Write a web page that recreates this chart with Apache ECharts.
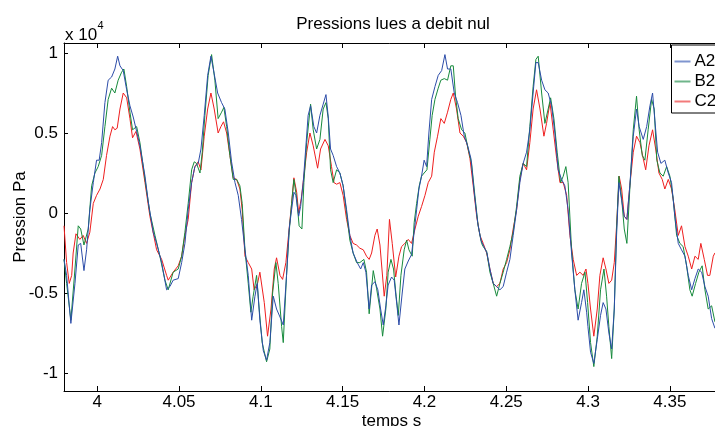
<!DOCTYPE html>
<html>
<head>
<meta charset="utf-8">
<script src="https://cdn.jsdelivr.net/npm/echarts@6/dist/echarts.min.js"></script>
<style>html,body{margin:0;padding:0;background:#fff}#c{width:715px;height:426px}</style>
</head>
<body>
<div id="c"></div>
<script>
// time (s), pressure (Pa)
const A2 = [[3.9797,-2900],[3.9813,-3900],[3.9839,-6900],[3.9864,-4400],[3.9884,-2000],[3.9899,-1900],[3.9919,-3600],[3.9935,-2300],[3.9955,200],[3.9976,1900],[3.9996,3300],[4.0012,3300],[4.0027,4400],[4.0047,6900],[4.0067,8300],[4.0088,8500],[4.0108,9000],[4.0125,9800],[4.0139,9200],[4.0159,8900],[4.0180,7700],[4.0200,6700],[4.0220,6000],[4.0241,5100],[4.0261,4200],[4.0292,2300],[4.0312,700],[4.0342,-1200],[4.0363,-1900],[4.0394,-3100],[4.0424,-4800],[4.0444,-4600],[4.0464,-4200],[4.0495,-4100],[4.0516,-3100],[4.0536,-1900],[4.0556,200],[4.0577,1900],[4.0597,2900],[4.0617,3100],[4.0634,4000],[4.0654,6100],[4.0675,8600],[4.0695,9800],[4.0715,8700],[4.0736,7500],[4.0760,6900],[4.0780,6500],[4.0801,5000],[4.0821,3200],[4.0842,1900],[4.0862,1100],[4.0882,-400],[4.0903,-2300],[4.0923,-3900],[4.0944,-6700],[4.0964,-5200],[4.0978,-4400],[4.0994,-6700],[4.1015,-8600],[4.1035,-9200],[4.1055,-8100],[4.1076,-5200],[4.1096,-6000],[4.1117,-6500],[4.1137,-7000],[4.1157,-3900],[4.1173,-1000],[4.1188,200],[4.1202,1300],[4.1214,1100],[4.1231,-200],[4.1243,400],[4.1259,1900],[4.1274,4000],[4.1289,6100],[4.1304,6700],[4.1324,5400],[4.1341,5000],[4.1361,6100],[4.1381,6800],[4.1398,7400],[4.1412,6000],[4.1426,4000],[4.1442,3600],[4.1463,2900],[4.1483,2500],[4.1503,1700],[4.1524,200],[4.1544,-1400],[4.1564,-2500],[4.1589,-3100],[4.1610,-3500],[4.1626,-3100],[4.1642,-3700],[4.1662,-6000],[4.1677,-4500],[4.1697,-4300],[4.1715,-4800],[4.1732,-6000],[4.1748,-7000],[4.1764,-5800],[4.1778,-4500],[4.1799,-4000],[4.1815,-4200],[4.1832,-5800],[4.1844,-7000],[4.1864,-5000],[4.1880,-3500],[4.1901,-3000],[4.1921,-2600],[4.1937,-1200],[4.1952,200],[4.1966,1500],[4.1982,2300],[4.1998,3300],[4.2013,2900],[4.2027,5000],[4.2044,7100],[4.2064,7900],[4.2084,8600],[4.2105,8900],[4.2125,9900],[4.2141,9000],[4.2161,9000],[4.2182,7500],[4.2202,6900],[4.2223,6100],[4.2243,4800],[4.2264,4200],[4.2284,3400],[4.2304,1300],[4.2325,-600],[4.2345,-1700],[4.2363,-2100],[4.2382,-2500],[4.2400,-3500],[4.2420,-4400],[4.2441,-4600],[4.2461,-4800],[4.2481,-4600],[4.2502,-3700],[4.2522,-2900],[4.2542,-1400],[4.2563,200],[4.2583,1900],[4.2603,3100],[4.2624,3800],[4.2644,5200],[4.2664,7500],[4.2681,9400],[4.2695,9400],[4.2716,8300],[4.2736,7700],[4.2756,7500],[4.2777,6700],[4.2797,5000],[4.2817,2700],[4.2838,2100],[4.2858,1700],[4.2878,200],[4.2899,-2500],[4.2919,-4800],[4.2939,-6700],[4.2960,-5600],[4.2974,-4800],[4.2991,-6200],[4.2999,-7100],[4.3015,-8700],[4.3035,-9400],[4.3056,-7900],[4.3076,-6400],[4.3092,-5600],[4.3109,-6000],[4.3127,-7500],[4.3144,-8500],[4.3160,-6000],[4.3174,-1400],[4.3188,1900],[4.3205,800],[4.3221,-200],[4.3237,-400],[4.3255,1700],[4.3276,4800],[4.3296,6500],[4.3312,5400],[4.3337,4600],[4.3358,5400],[4.3378,6700],[4.3394,7500],[4.3408,5800],[4.3425,3800],[4.3445,3100],[4.3469,3300],[4.3490,2500],[4.3510,1900],[4.3530,-200],[4.3551,-1900],[4.3571,-2300],[4.3592,-2700],[4.3612,-3900],[4.3633,-4800],[4.3653,-4100],[4.3673,-3500],[4.3694,-3700],[4.3714,-4600],[4.3734,-5200],[4.3755,-6600],[4.3775,-7200],[4.3800,-7300]];

const B2 = [[3.9797,-2900],[3.9813,-4400],[3.9839,-6700],[3.9864,-3500],[3.9884,-800],[3.9899,-1000],[3.9919,-2000],[3.9945,-1000],[3.9966,1700],[3.9986,2500],[4.0006,2900],[4.0027,3600],[4.0047,5400],[4.0067,7100],[4.0088,7800],[4.0108,7500],[4.0128,8300],[4.0149,8800],[4.0163,9000],[4.0180,7900],[4.0200,6300],[4.0216,5200],[4.0241,5400],[4.0261,4400],[4.0292,2100],[4.0322,0],[4.0353,-1400],[4.0383,-2700],[4.0414,-4200],[4.0434,-4800],[4.0464,-3700],[4.0495,-3500],[4.0516,-2700],[4.0536,-1200],[4.0556,600],[4.0577,2700],[4.0593,3200],[4.0607,3100],[4.0628,2500],[4.0642,3800],[4.0658,6100],[4.0678,8600],[4.0699,9900],[4.0719,8300],[4.0739,5900],[4.0760,6300],[4.0774,6600],[4.0791,5400],[4.0811,3600],[4.0831,2100],[4.0852,2100],[4.0872,1700],[4.0886,600],[4.0903,-2300],[4.0923,-4400],[4.0939,-6200],[4.0953,-5200],[4.0974,-3900],[4.0990,-6000],[4.1008,-8100],[4.1035,-9300],[4.1055,-8500],[4.1072,-5000],[4.1092,-3100],[4.1106,-4400],[4.1127,-7100],[4.1137,-8100],[4.1157,-3900],[4.1173,-1200],[4.1188,600],[4.1202,2100],[4.1219,900],[4.1234,-800],[4.1251,-1000],[4.1263,1900],[4.1280,4400],[4.1304,6800],[4.1320,5200],[4.1341,4000],[4.1361,4600],[4.1381,6500],[4.1398,6900],[4.1412,5900],[4.1426,2700],[4.1442,1900],[4.1463,2700],[4.1483,2500],[4.1503,1700],[4.1524,0],[4.1544,-1700],[4.1564,-2500],[4.1585,-3100],[4.1605,-3100],[4.1630,-2900],[4.1646,-3700],[4.1662,-6300],[4.1687,-3600],[4.1707,-4700],[4.1728,-6000],[4.1744,-7700],[4.1764,-6000],[4.1778,-3700],[4.1795,-2900],[4.1811,-3500],[4.1827,-5200],[4.1840,-6400],[4.1856,-3900],[4.1876,-2300],[4.1891,-1700],[4.1905,-2300],[4.1925,-2700],[4.1937,-600],[4.1952,600],[4.1968,1700],[4.1982,2300],[4.1998,2500],[4.2015,2700],[4.2033,4600],[4.2047,6100],[4.2064,7100],[4.2084,7800],[4.2100,8300],[4.2121,8400],[4.2141,8300],[4.2161,9200],[4.2176,9200],[4.2190,7300],[4.2206,5900],[4.2227,5200],[4.2247,5000],[4.2267,4000],[4.2288,3100],[4.2308,1100],[4.2328,-800],[4.2349,-1900],[4.2359,-2100],[4.2380,-2400],[4.2400,-3700],[4.2420,-4400],[4.2441,-5200],[4.2461,-4400],[4.2481,-3700],[4.2502,-2900],[4.2522,-2100],[4.2542,-1200],[4.2563,400],[4.2583,2300],[4.2603,3100],[4.2624,2900],[4.2644,5400],[4.2664,7900],[4.2681,9600],[4.2695,9800],[4.2716,7500],[4.2736,5600],[4.2756,6500],[4.2771,7200],[4.2791,5900],[4.2811,3800],[4.2832,1900],[4.2848,2300],[4.2864,2900],[4.2878,1900],[4.2899,-2300],[4.2919,-4800],[4.2939,-6000],[4.2960,-4400],[4.2981,-3700],[4.2997,-5600],[4.3015,-8100],[4.3035,-9600],[4.3056,-7700],[4.3076,-4800],[4.3097,-3500],[4.3113,-5200],[4.3127,-7100],[4.3144,-9100],[4.3160,-6000],[4.3174,-1000],[4.3188,2300],[4.3205,900],[4.3221,-1000],[4.3237,-1900],[4.3255,1500],[4.3276,5200],[4.3296,7300],[4.3312,5200],[4.3331,3600],[4.3347,3300],[4.3367,5200],[4.3388,7100],[4.3404,6500],[4.3420,3300],[4.3439,2500],[4.3459,2300],[4.3480,2900],[4.3500,2300],[4.3520,900],[4.3541,-1400],[4.3561,-1900],[4.3581,-2100],[4.3602,-3300],[4.3622,-4800],[4.3636,-5200],[4.3657,-4400],[4.3677,-3700],[4.3697,-3300],[4.3714,-4800],[4.3734,-6000],[4.3755,-5800],[4.3775,-6800],[4.3800,-6900]];

const C2 = [[3.9797,-800],[3.9813,-3100],[3.9829,-4400],[3.9844,-3900],[3.9853,-2500],[3.9870,-1300],[3.9894,-1650],[3.9914,-1400],[3.9935,-1900],[3.9955,-1200],[3.9976,600],[3.9996,1100],[4.0017,1500],[4.0037,2100],[4.0057,3600],[4.0078,4800],[4.0094,5400],[4.0108,5200],[4.0122,5300],[4.0139,6500],[4.0159,7500],[4.0180,7200],[4.0200,5900],[4.0216,4700],[4.0237,5100],[4.0261,4000],[4.0292,1900],[4.0322,-200],[4.0363,-2300],[4.0394,-2900],[4.0424,-3900],[4.0434,-4200],[4.0464,-3700],[4.0495,-3300],[4.0516,-2700],[4.0536,-1400],[4.0556,-400],[4.0577,1900],[4.0597,2900],[4.0617,3200],[4.0634,2700],[4.0654,4800],[4.0675,6500],[4.0695,7500],[4.0715,6500],[4.0739,5000],[4.0756,5400],[4.0772,5700],[4.0791,5000],[4.0811,3600],[4.0831,2200],[4.0852,2100],[4.0872,1500],[4.0886,200],[4.0903,-2700],[4.0923,-3100],[4.0944,-3500],[4.0959,-4800],[4.0980,-4400],[4.0994,-3700],[4.1021,-5600],[4.1041,-7700],[4.1062,-6000],[4.1082,-3500],[4.1096,-2800],[4.1117,-3900],[4.1133,-4150],[4.1153,-3100],[4.1173,-1000],[4.1188,600],[4.1202,2200],[4.1219,1300],[4.1231,0],[4.1247,900],[4.1263,2300],[4.1280,3800],[4.1300,5000],[4.1320,4200],[4.1347,2800],[4.1365,4000],[4.1392,4600],[4.1412,4200],[4.1432,2900],[4.1447,1900],[4.1463,1800],[4.1483,1900],[4.1503,1100],[4.1524,-400],[4.1544,-1400],[4.1564,-1900],[4.1585,-2000],[4.1605,-2200],[4.1626,-2300],[4.1646,-2700],[4.1662,-2900],[4.1677,-2500],[4.1697,-1400],[4.1711,-1000],[4.1728,-2000],[4.1754,-5200],[4.1770,-3900],[4.1786,-400],[4.1803,-1900],[4.1824,-4000],[4.1844,-2700],[4.1860,-2100],[4.1880,-1900],[4.1901,-1650],[4.1921,-1900],[4.1942,-1000],[4.1962,-200],[4.1982,400],[4.2003,1100],[4.2023,1900],[4.2044,2300],[4.2060,3800],[4.2080,4800],[4.2100,5900],[4.2121,5600],[4.2141,6300],[4.2161,7100],[4.2176,7500],[4.2196,6500],[4.2217,5000],[4.2237,4800],[4.2258,4400],[4.2278,3400],[4.2298,1700],[4.2319,-200],[4.2339,-1400],[4.2359,-1900],[4.2380,-2500],[4.2400,-3500],[4.2420,-4400],[4.2441,-4600],[4.2461,-4400],[4.2481,-3500],[4.2502,-3100],[4.2522,-2300],[4.2542,-1000],[4.2563,200],[4.2583,2100],[4.2603,3100],[4.2624,2700],[4.2644,4400],[4.2664,6500],[4.2685,7700],[4.2706,6500],[4.2730,4800],[4.2746,5600],[4.2767,6900],[4.2787,5200],[4.2808,3400],[4.2828,1900],[4.2848,1900],[4.2869,1100],[4.2889,-1400],[4.2909,-2900],[4.2930,-3900],[4.2950,-3700],[4.2970,-3900],[4.2987,-3500],[4.2999,-4400],[4.3015,-6000],[4.3035,-7700],[4.3056,-6000],[4.3072,-3900],[4.3092,-2800],[4.3109,-3500],[4.3127,-4400],[4.3144,-4200],[4.3160,-3100],[4.3174,-800],[4.3190,2300],[4.3205,1500],[4.3221,-200],[4.3237,-400],[4.3255,1700],[4.3276,3800],[4.3296,4800],[4.3317,4400],[4.3337,3400],[4.3352,2700],[4.3372,4200],[4.3394,5200],[4.3413,4000],[4.3433,2500],[4.3453,2100],[4.3469,1500],[4.3490,2100],[4.3510,1500],[4.3530,200],[4.3551,-1400],[4.3571,-800],[4.3592,-2100],[4.3612,-2700],[4.3633,-3500],[4.3653,-2700],[4.3673,-2900],[4.3689,-1900],[4.3710,-2900],[4.3730,-3900],[4.3744,-3900],[4.3765,-2700],[4.3775,-2500],[4.3800,-2500]];

const xTicks = [4, 4.05, 4.1, 4.15, 4.2, 4.25, 4.3, 4.35];
const yTicks = [-10000, -5000, 0, 5000, 10000];
const seriesNames = ['A2', 'B2', 'C2'];
const colors = ['#2c4ca8', '#178a3c', '#ee1f1f'];
const legendColors = ['#7f95cf', '#6fb58a', '#f27a7a'];

const FONT = 'Liberation Sans, Arial, Helvetica, sans-serif';
const chart = echarts.init(document.getElementById('c'), null, {renderer: 'canvas'});

const xBase = {
  type: 'value', min: 3.9797, max: 4.38, gridIndex: 0,
  splitLine: {show: false},
  axisLine: {show: true, onZero: false, lineStyle: {color: '#000', width: 1}},
  axisTick: {show: true, inside: true, length: 5, customValues: xTicks, lineStyle: {color: '#000'}},
};

chart.setOption({
  animation: false,
  backgroundColor: '#fff',
  color: colors,
  grid: {left: 64, top: 43, bottom: 35, right: -4, containLabel: false, outerBoundsMode: 'none'},
  xAxis: [
    Object.assign({}, xBase, {
      position: 'bottom',
      name: 'temps s', nameLocation: 'middle', nameGap: 22, nameMoveOverlap: false,
      nameTextStyle: {fontFamily: FONT, fontSize: 17, color: '#000', verticalAlign: 'top'},
      axisLabel: {show: true, customValues: xTicks, margin: 3, fontFamily: FONT, fontSize: 17, color: '#000',
        formatter: v => String(+v.toFixed(2))}
    }),
    Object.assign({}, xBase, {position: 'top', axisLabel: {show: false}})
  ],
  yAxis: {
    type: 'value', min: -11125, max: 10625,
    splitLine: {show: false},
    axisLine: {show: true, onZero: false, lineStyle: {color: '#000', width: 1}},
    axisTick: {show: true, inside: true, length: 4, customValues: yTicks, lineStyle: {color: '#000'}},
    axisLabel: {customValues: yTicks, margin: 6, fontFamily: FONT, fontSize: 17, color: '#000',
      formatter: v => String(v / 10000)},
    name: 'Pression Pa', nameLocation: 'middle', nameGap: 35, nameRotate: 90, nameMoveOverlap: false,
    nameTextStyle: {fontFamily: FONT, fontSize: 17, color: '#000'}
  },
  legend: {
    orient: 'vertical', left: 671.5, top: 45,
    padding: [8, 8, 3, 3], itemGap: 3, itemWidth: 16, itemHeight: 2, icon: 'rect',
    borderColor: '#000', borderWidth: 1, backgroundColor: '#fff',
    itemStyle: {borderWidth: 0},
    textStyle: {fontFamily: FONT, fontSize: 17, color: '#000', padding: [0, 0, 0, -1]},
    data: seriesNames.map((n, i) => ({name: n, itemStyle: {color: legendColors[i], borderWidth: 0}}))
  },
  graphic: [
    {type: 'text', style: {text: 'Pressions lues a debit nul', x: 393, y: 24.5, align: 'center', verticalAlign: 'middle', font: '17px ' + FONT, fill: '#000'}},
    {type: 'text', style: {text: 'x 10', x: 65, y: 35.5, align: 'left', verticalAlign: 'middle', font: '17px ' + FONT, fill: '#000'}},
    {type: 'text', style: {text: '4', x: 97.5, y: 26, align: 'left', verticalAlign: 'middle', font: '11px ' + FONT, fill: '#000'}}
  ],
  series: [A2, B2, C2].map((d, i) => ({
    name: seriesNames[i], type: 'line', data: d, symbol: 'none', smooth: false,
    lineStyle: {width: 1, color: colors[i]}, itemStyle: {color: colors[i]}, z: 3 - i
  }))
});
</script>
</body>
</html>
